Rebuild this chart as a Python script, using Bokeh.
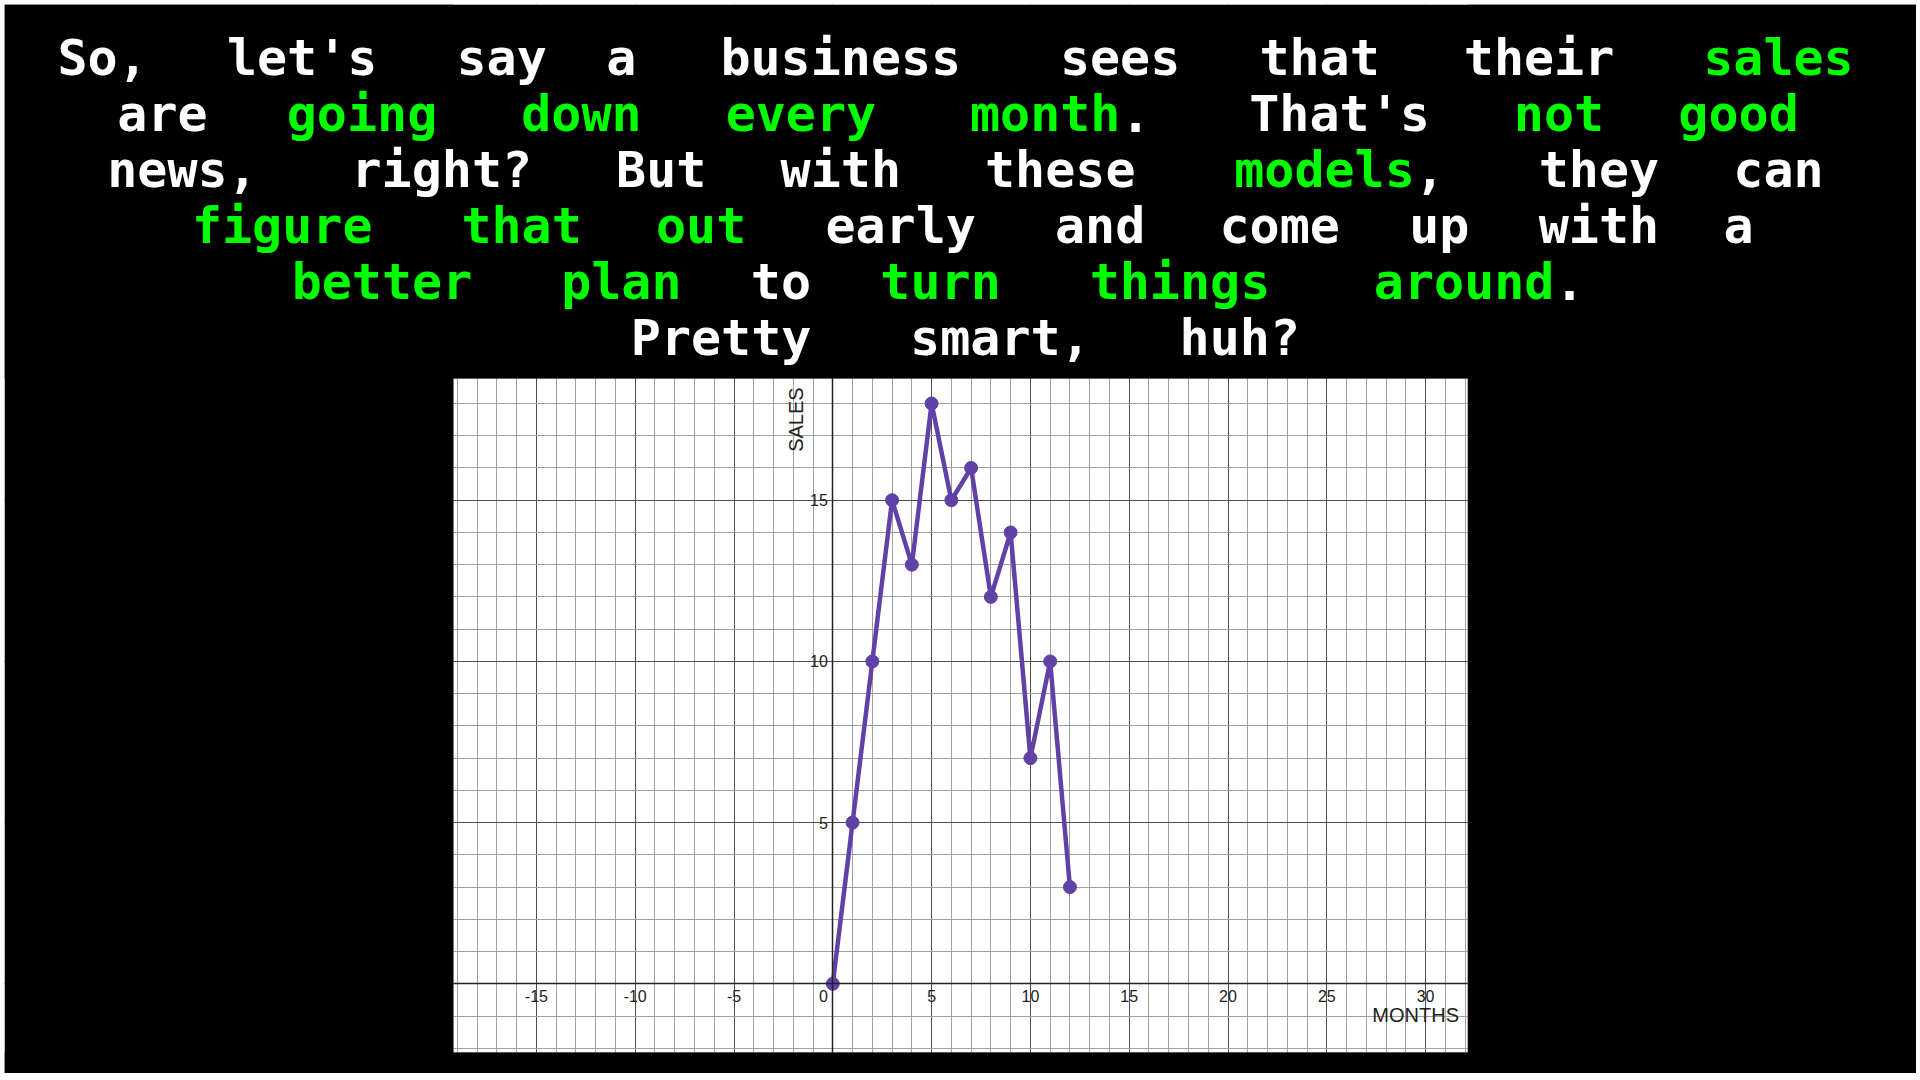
from math import pi

from bokeh.core.properties import value
from bokeh.embed import file_html
from bokeh.models import (BoxAnnotation, ColumnDataSource, FixedTicker, Label, Range1d,
                          SingleIntervalTicker)
from bokeh.plotting import figure
from bokeh.resources import INLINE

# --- data ---
months = [0, 1, 2, 3, 4, 5, 6, 7, 8, 9, 10, 11, 12]
sales = [0, 5, 10, 15, 13, 18, 15, 16, 12, 14, 7, 10, 3]
x_ticks = [-15, -10, -5, 5, 10, 15, 20, 25, 30]
y_ticks = [5, 10, 15]

WHITE = "#ffffff"
GREEN = "#00ff00"
PURPLE = "#6042a6"

# caption, one list of (text, colour) per line
caption = [
    [("So, let's say a business sees that their ", WHITE), ("sales", GREEN)],
    [("are ", WHITE), ("going down every month", GREEN), (". That's ", WHITE), ("not good", GREEN)],
    [("news, right? But with these ", WHITE), ("models", GREEN), (", they can", WHITE)],
    [("figure that out", GREEN), (" early and come up with a", WHITE)],
    [("better plan", GREEN), (" to ", WHITE), ("turn things around", GREEN), (". ", WHITE)],
    [("Pretty smart, huh?", WHITE)],
]

# --- page geometry (px) ---
PAGE_L, PAGE_T, PAGE_R, PAGE_B = 4, 4, 1916, 1073   # black panel on the page
X0_PX, X_UNIT = 832.3, 19.76                         # month 0 and px per month
Y0_PX, Y_UNIT = 983.3, 32.24                         # sales 0 and px per unit
CHART_X = (-19.19, 32.13)                            # visible graph paper
CHART_Y = (-2.12, 18.77)

# caption layout
CELL = 39.9            # monospace cell of the reference pixel font
FONT_PX = 50
ADV = 0.602 * FONT_PX  # DejaVu Sans Mono advance
FIRST_BASELINE = 57.5
LINE_GAP = 56.0
CENTER_X = 960


def layout_caption(lines):
    """Place every word (or colour run) on the monospace grid, page pixels."""
    xs, ys, texts, colors = [], [], [], []
    for k, segs in enumerate(lines):
        full = "".join(t for t, _ in segs)
        cols = [c for t, c in segs for _ in t]
        start = CENTER_X - len(full) * CELL / 2
        y = FIRST_BASELINE + k * LINE_GAP
        i = 0
        while i < len(full):
            if full[i] == " ":
                i += 1
                continue
            j = i
            while j < len(full) and full[j] != " ":
                j += 1
            centre = start + (i + j) / 2 * CELL
            left = centre - (j - i) * ADV / 2
            a = i
            while a < j:
                b = a
                while b < j and cols[b] == cols[a]:
                    b += 1
                xs.append(left + (a - i) * ADV)
                ys.append(y)
                texts.append(full[a:b])
                colors.append(cols[a])
                a = b
            i = j
    return dict(x=xs, y=ys, text=texts, color=colors)


# the frame covers the whole black panel; the chart scales are set so that
# the graph paper lands where it is in the reference
x_range = Range1d((PAGE_L - X0_PX) / X_UNIT, (PAGE_R - X0_PX) / X_UNIT)
y_range = Range1d((Y0_PX - PAGE_B) / Y_UNIT, (Y0_PX - PAGE_T) / Y_UNIT)

p = figure(width=PAGE_R - PAGE_L, height=PAGE_B - PAGE_T, x_range=x_range, y_range=y_range,
           output_backend="svg", toolbar_location=None, min_border=0,
           background_fill_color="white", border_fill_color="black", outline_line_color=None,
           styles={"margin-left": f"{PAGE_L}px", "margin-top": f"{PAGE_T}px"})
p.extra_x_ranges = {"px": Range1d(PAGE_L, PAGE_R)}
p.extra_y_ranges = {"py": Range1d(PAGE_B, PAGE_T)}

for grid in (p.xgrid, p.ygrid):
    grid.ticker = SingleIntervalTicker(interval=5, num_minor_ticks=5)
    grid.grid_line_color = "#4d4d4d"
    grid.grid_line_width = 1
    grid.minor_grid_line_color = "#a0a0a0"
    grid.minor_grid_line_width = 1

# black surround over the grid, outside the graph paper
mask = dict(fill_color="black", fill_alpha=1, line_color=None, level="underlay")
p.add_layout(BoxAnnotation(right=CHART_X[0], **mask))
p.add_layout(BoxAnnotation(left=CHART_X[1], **mask))
p.add_layout(BoxAnnotation(bottom=CHART_Y[1], **mask))
p.add_layout(BoxAnnotation(top=CHART_Y[0], **mask))
p.add_layout(BoxAnnotation(left=CHART_X[0], right=CHART_X[1], bottom=CHART_Y[0], top=CHART_Y[1],
                           fill_color=None, line_color="#bbbbbb", line_width=1, level="underlay"))

p.xaxis.ticker = FixedTicker(ticks=x_ticks)
p.yaxis.ticker = FixedTicker(ticks=y_ticks)
p.xaxis.bounds = CHART_X
p.yaxis.bounds = CHART_Y
p.xaxis.major_label_overrides = {t: str(t) for t in x_ticks if t < 0}
for ax in (p.xaxis, p.yaxis):
    ax.fixed_location = 0
    ax.axis_line_color = "#222222"
    ax.axis_line_width = 1.5
    ax.major_tick_line_color = None
    ax.minor_tick_line_color = None
    ax.major_tick_in = 0
    ax.major_tick_out = 0
    ax.minor_tick_in = 0
    ax.minor_tick_out = 0
    ax.major_label_text_font = "Liberation Sans"
    ax.major_label_text_font_size = "16px"
    ax.major_label_text_color = "#222222"
p.xaxis.major_label_standoff = 6
p.yaxis.major_label_standoff = 5

p.line(months, sales, line_color=PURPLE, line_width=4.5)
p.scatter(months, sales, size=13, color=PURPLE)

label_style = dict(text_font="Liberation Sans", text_color="#222222")
p.add_layout(Label(x=0, y=0, text="0", x_offset=-5, y_offset=-6, text_align="right",
                   text_baseline="top", text_font_size="16px", **label_style))
p.add_layout(Label(x=0, y=18.5, text="SALES", x_offset=-37, angle=pi / 2, text_align="right",
                   text_baseline="alphabetic", text_font_size="20px", **label_style))
p.add_layout(Label(x=31.69, y=-0.98, text="MONTHS", text_align="right",
                   text_baseline="middle", text_font_size="20px", **label_style))

p.text(x="x", y="y", text="text", text_color="color", x_range_name="px", y_range_name="py",
       source=ColumnDataSource(layout_caption(caption)),
       text_font=value("DejaVu Sans Mono"), text_font_style="bold",
       text_font_size=f"{FONT_PX}px", text_align="left", text_baseline="alphabetic")

open("out.html", "w").write(file_html(p, INLINE))
